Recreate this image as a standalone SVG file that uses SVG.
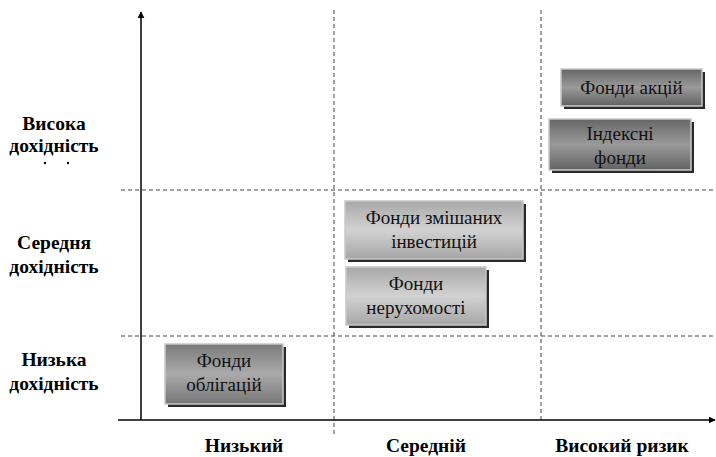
<svg xmlns="http://www.w3.org/2000/svg" width="716" height="457" viewBox="0 0 716 457">
  <style>
    .axis { stroke: #000; stroke-width: 1.5; fill: none; }
    .grid { stroke: #444; stroke-width: 1; stroke-dasharray: 4 3; fill: none; }
    .lbl { font-weight: bold; font-size: 19.5px; fill: #000; text-anchor: middle; }
    .box-text { font-size: 19px; fill: #111; text-anchor: middle; }
    .shadow { fill: #2a2a2a; }
    .edge { stroke: #c8c8c8; stroke-width: 1.5; }
  </style>
  <defs>
    <linearGradient id="gDark" x1="0" y1="0" x2="0" y2="1">
      <stop offset="0" stop-color="#666"/>
      <stop offset="0.5" stop-color="#9a9a9a"/>
      <stop offset="1" stop-color="#626262"/>
    </linearGradient>
    <linearGradient id="gLight" x1="0" y1="0" x2="0" y2="1">
      <stop offset="0" stop-color="#a8a8a8"/>
      <stop offset="0.5" stop-color="#d2d2d2"/>
      <stop offset="1" stop-color="#a6a6a6"/>
    </linearGradient>
    <linearGradient id="gMid" x1="0" y1="0" x2="0" y2="1">
      <stop offset="0" stop-color="#7a7a7a"/>
      <stop offset="0.5" stop-color="#ababab"/>
      <stop offset="1" stop-color="#767676"/>
    </linearGradient>
    <marker id="arrow" viewBox="0 0 10 10" refX="9" refY="5" markerWidth="7" markerHeight="7" markerUnits="userSpaceOnUse" orient="auto">
      <path d="M0,0 L10,5 L0,10 z" fill="#000"/>
    </marker>
  </defs>

  <!-- grid and axes -->
  <g id="connectors">
    <line class="grid" x1="334" y1="10" x2="334" y2="435"/>
    <line class="grid" x1="541" y1="10" x2="541" y2="420"/>
    <line class="grid" x1="121" y1="190" x2="716" y2="190"/>
    <line class="grid" x1="121" y1="336" x2="716" y2="336"/>
    <line class="axis" x1="141" y1="420" x2="141" y2="12" marker-end="url(#arrow)"/>
    <line class="axis" x1="118" y1="420" x2="715" y2="420" marker-end="url(#arrow)"/>
  </g>

  <g font-family="Liberation Serif">
    <!-- row labels -->
    <g id="row-high">
      <text class="lbl" x="54" y="130">Висока</text>
      <text class="lbl" x="54" y="152">дохідність</text>
      <circle cx="45" cy="163" r="1.2" fill="#000"/>
      <circle cx="68" cy="163" r="1.2" fill="#000"/>
    </g>
    <g id="row-mid">
      <text class="lbl" x="54" y="249">Середня</text>
      <text class="lbl" x="54" y="273">дохідність</text>
    </g>
    <g id="row-low">
      <text class="lbl" x="54" y="366">Низька</text>
      <text class="lbl" x="54" y="390">дохідність</text>
    </g>

    <!-- column labels -->
    <g id="col-low"><text class="lbl" x="244" y="452">Низький</text></g>
    <g id="col-mid"><text class="lbl" x="426" y="452">Середній</text></g>
    <g id="col-high"><text class="lbl" x="622" y="452">Високий ризик</text></g>

    <!-- fund boxes -->
    <g id="stock-funds">
      <rect class="shadow" x="564" y="72" width="141" height="37"/>
      <rect class="edge" x="561" y="69" width="141" height="37" fill="url(#gDark)"/>
      <text class="box-text" x="631.5" y="94">Фонди акцій</text>
    </g>
    <g id="index-funds">
      <rect class="shadow" x="552" y="122" width="142" height="51"/>
      <rect class="edge" x="549" y="119" width="142" height="51" fill="url(#gDark)"/>
      <text class="box-text" x="620" y="140">Індексні</text>
      <text class="box-text" x="620" y="164">фонди</text>
    </g>
    <g id="mixed-funds">
      <rect class="shadow" x="348" y="204" width="178" height="58"/>
      <rect class="edge" x="345" y="201" width="178" height="58" fill="url(#gLight)"/>
      <text class="box-text" x="434" y="224">Фонди змішаних</text>
      <text class="box-text" x="434" y="248">інвестицій</text>
    </g>
    <g id="real-estate-funds">
      <rect class="shadow" x="349" y="270" width="140" height="58"/>
      <rect class="edge" x="346" y="267" width="140" height="58" fill="url(#gLight)"/>
      <text class="box-text" x="416" y="290">Фонди</text>
      <text class="box-text" x="416" y="314">нерухомості</text>
    </g>
    <g id="bond-funds">
      <rect class="shadow" x="168" y="347" width="118" height="60"/>
      <rect class="edge" x="165" y="344" width="118" height="60" fill="url(#gMid)"/>
      <text class="box-text" x="224" y="367">Фонди</text>
      <text class="box-text" x="224" y="391">облігацій</text>
    </g>
  </g>
</svg>
